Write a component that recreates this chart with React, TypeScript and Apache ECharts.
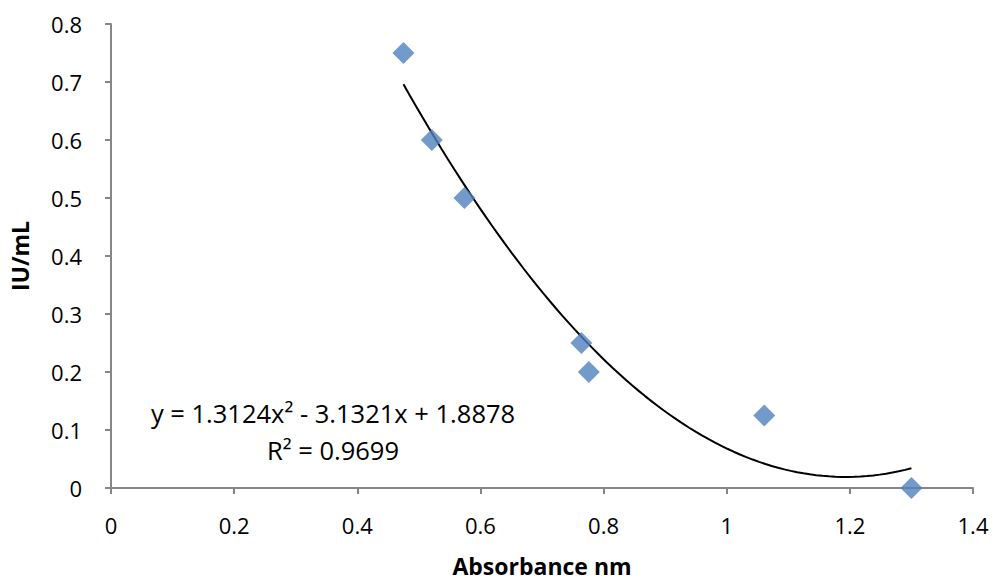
import React, { useEffect, useRef } from "react";
import * as echarts from "echarts";

const absorbance = [0.475, 0.521, 0.574, 0.764, 0.776, 1.061, 1.3];
const iuPerMl = [0.75, 0.6, 0.5, 0.25, 0.2, 0.125, 0];
const xTicks = [0, 0.2, 0.4, 0.6, 0.8, 1, 1.2, 1.4];
const yTicks = [0, 0.1, 0.2, 0.3, 0.4, 0.5, 0.6, 0.7, 0.8];
// Polynomial trendline coefficients, as printed on the chart
const trendA = 1.3124;
const trendB = -3.1321;
const trendC = 1.8878;
const equationText = "y = 1.3124x² - 3.1321x + 1.8878";
const r2Text = "R² = 0.9699";

const FONT = "'Open Sans', 'Liberation Sans', sans-serif";

export default function App() {
  const ref = useRef<HTMLDivElement>(null);
  useEffect(() => {
    if (!ref.current) return;
    const chart = echarts.init(ref.current, undefined, { renderer: "svg" });
    const xMin = Math.min(...absorbance);
    const xMax = Math.max(...absorbance);
    const steps = 80;
    const trend: number[][] = [];
    for (let i = 0; i <= steps; i++) {
      const x = xMin + ((xMax - xMin) * i) / steps;
      trend.push([x, trendA * x * x + trendB * x + trendC]);
    }
    const axisLine = { show: true, lineStyle: { color: "#868686", width: 2 } };
    chart.setOption({
      animation: false,
      backgroundColor: "#ffffff",
      grid: { left: 111, right: 19, top: 24, bottom: 95, containLabel: false, outerBoundsMode: "none" },
      xAxis: {
        type: "value",
        min: 0,
        max: 1.4,
        interval: 0.2,
        axisLine,
        axisTick: { show: true, length: 6, lineStyle: { color: "#868686", width: 2 } },
        splitLine: { show: false },
        axisLabel: {
          color: "#000",
          fontSize: 22,
          fontFamily: FONT,
          margin: 26,
          formatter: (v: number) => {
            const t = xTicks.find((k) => Math.abs(k - v) < 1e-9);
            return t === undefined ? "" : String(t);
          },
        },
        name: "Absorbance nm",
        nameLocation: "middle",
        nameGap: 65,
        nameTextStyle: { color: "#000", fontSize: 23, lineHeight: 26, fontWeight: "bold", fontFamily: FONT },
      },
      yAxis: {
        type: "value",
        min: 0,
        max: 0.8,
        interval: 0.1,
        axisLine,
        axisTick: { show: true, length: 6, lineStyle: { color: "#868686", width: 2 } },
        splitLine: { show: false },
        axisLabel: {
          color: "#000",
          fontSize: 22,
          fontFamily: FONT,
          margin: 29,
          formatter: (v: number) => {
            const t = yTicks.find((k) => Math.abs(k - v) < 1e-9);
            return t === undefined ? "" : String(t);
          },
        },
        name: "IU/mL",
        nameLocation: "middle",
        nameGap: 80,
        nameTextStyle: { color: "#000", fontSize: 23, fontWeight: "bold", fontFamily: FONT },
      },
      series: [
        {
          type: "line",
          data: trend,
          showSymbol: false,
          symbol: "none",
          lineStyle: { color: "#000", width: 2 },
          z: 2,
        },
        {
          type: "scatter",
          data: absorbance.map((x, i) => [x, iuPerMl[i]]),
          symbol: "diamond",
          symbolSize: 22,
          itemStyle: { color: "#4F81BD" },
          z: 3,
        },
      ],
      graphic: [
        {
          type: "text",
          x: 333,
          y: 413,
          style: {
            text: equationText,
            fill: "#000",
            font: `25.5px ${FONT}`,
            textAlign: "center",
            textVerticalAlign: "middle",
          },
        },
        {
          type: "text",
          x: 333,
          y: 450,
          style: {
            text: r2Text,
            fill: "#000",
            font: `25.5px ${FONT}`,
            textAlign: "center",
            textVerticalAlign: "middle",
          },
        },
      ],
    });
    return () => chart.dispose();
  }, []);
  return <div ref={ref} style={{ width: 992, height: 583, position: "absolute", left: 0, top: 0 }} />;
}
